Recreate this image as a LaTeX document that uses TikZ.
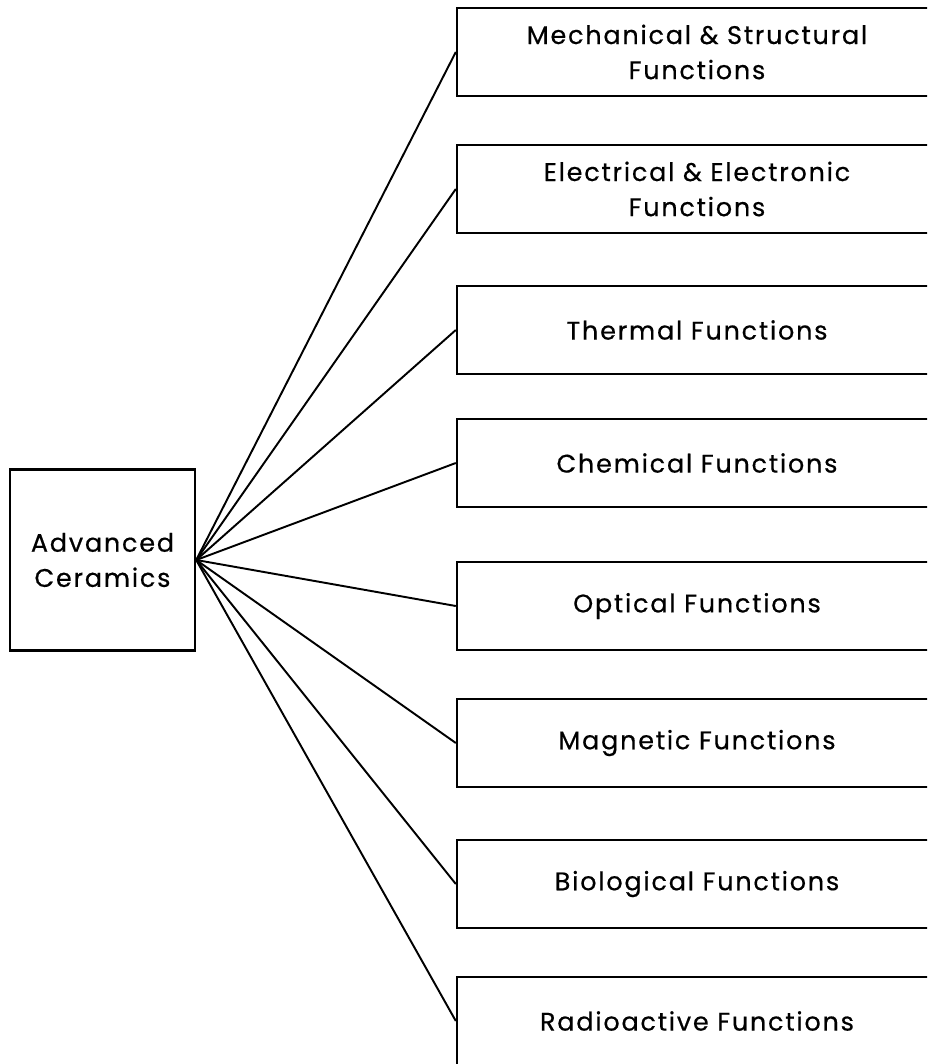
\documentclass[tikz,border=0pt]{standalone}
\usepackage{fontspec}
\setmainfont{Poppins}[LetterSpace=7,FakeBold=0.5]

\begin{document}
\begin{tikzpicture}[x=0.02cm,y=-0.02cm]
  \tikzset{func/.style={draw,line width=1.4pt,minimum width=9.6cm,minimum height=1.76cm,
      align=center,inner sep=0pt,font=\fontsize{14.5}{20}\selectfont},
    root/.style={draw,line width=1.4pt,minimum width=3.7cm,minimum height=3.62cm,
      align=center,font=\fontsize{14.5}{20}\selectfont},
    link/.style={line width=1.1pt}};
  \clip (0,0) rectangle (927,1064);
  \node[root] (AC) at (102.5,560) {Advanced\\Ceramics};
  \node[func] (mech) at (697,52) {Mechanical \& Structural\\Functions};
  \node[func] (elec) at (697,189) {Electrical \& Electronic\\Functions};
  \node[func] (therm) at (697,330) {Thermal Functions};
  \node[func] (chem) at (697,463) {Chemical Functions};
  \node[func] (opt) at (697,606) {Optical Functions};
  \node[func] (magn) at (697,743) {Magnetic Functions};
  \node[func] (bio) at (697,884) {Biological Functions};
  \node[func] (radio) at (697,1021) {Radioactive Functions};
  \draw[link] (AC.east) -- (mech.west);
  \draw[link] (AC.east) -- (elec.west);
  \draw[link] (AC.east) -- (therm.west);
  \draw[link] (AC.east) -- (chem.west);
  \draw[link] (AC.east) -- (opt.west);
  \draw[link] (AC.east) -- (magn.west);
  \draw[link] (AC.east) -- (bio.west);
  \draw[link] (AC.east) -- (radio.west);
\end{tikzpicture}
\end{document}
